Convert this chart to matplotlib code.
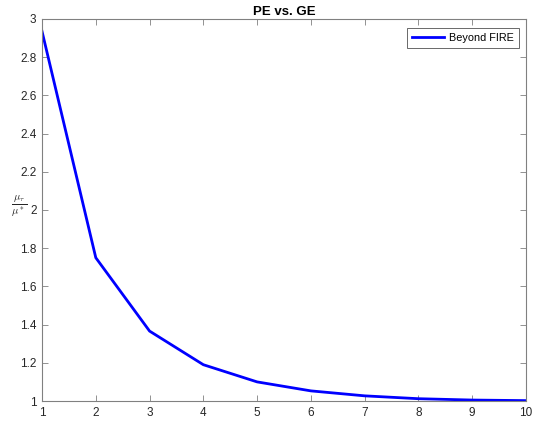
import numpy as np
import matplotlib
matplotlib.use('Agg')
import matplotlib.pyplot as plt

# data
k_vals = [1, 2, 3, 4, 5, 6, 7, 8, 9, 10]
ratio_vals = [2.935, 1.750, 1.366, 1.190, 1.100, 1.053, 1.027, 1.012, 1.005, 1.002]
x_ticks = list(range(1, 11))
y_ticks = [1, 1.2, 1.4, 1.6, 1.8, 2, 2.2, 2.4, 2.6, 2.8, 3]
y_tick_labels = ['1', '1.2', '1.4', '1.6', '1.8', '2', '2.2', '2.4', '2.6', '2.8', '3']

plt.rcParams['font.family'] = ['Liberation Sans', 'DejaVu Sans']
plt.rcParams['mathtext.fontset'] = 'cm'

fig = plt.figure(figsize=(5.34, 4.21), dpi=100)
ax = fig.add_axes([0.0787, 0.0475, 0.9063, 0.9075])

ax.plot(k_vals, ratio_vals, color='#0000ff', linewidth=2.0, label='Beyond FIRE')

ax.set_xlim(1, 10)
ax.set_ylim(1, 3)
ax.set_xticks(x_ticks)
ax.set_yticks(y_ticks)
ax.set_yticklabels(y_tick_labels)

axis_gray = '#262626'
for side in ['top', 'bottom', 'left', 'right']:
    ax.spines[side].set_color('#808080')
    ax.spines[side].set_linewidth(0.8)
ax.tick_params(direction='in', top=True, right=True, length=4, width=0.6,
               color='#808080', labelcolor=axis_gray, labelsize=8.5, pad=4)

ax.set_title('PE vs. GE', fontsize=9.5, fontweight='bold', color='black', pad=3)
ax.set_ylabel(r'$\frac{\mu_\tau}{\mu^*}$', rotation=0, fontsize=11, color=axis_gray,
              labelpad=4, va='center')
ax.yaxis.set_label_coords(-0.047, 0.51)

leg = ax.legend(loc='upper right', fontsize=7.8, frameon=True, fancybox=False,
                edgecolor='#262626', handlelength=3.0, handletextpad=0.45,
                borderpad=0.45, borderaxespad=0,
                bbox_to_anchor=(0.9855, 0.976))
leg.get_frame().set_linewidth(0.6)

fig.savefig('out.png', dpi=100)
